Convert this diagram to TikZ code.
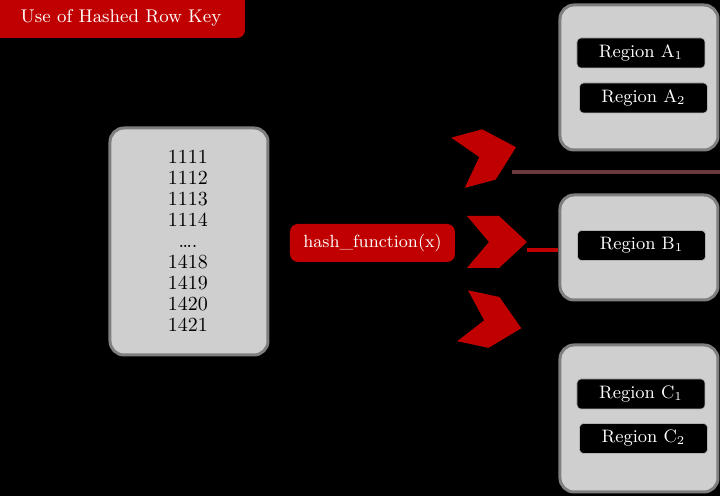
\documentclass[tikz,border=0pt]{standalone}
\usepackage{amsmath}
\usepackage{tikz}

\definecolor{hashred}{HTML}{C00000}
\definecolor{boxgray}{HTML}{D0CFD0}
\definecolor{edgegray}{HTML}{7F7F7F}
\definecolor{linebrown}{HTML}{6B3A3F}

\tikzset{
  server/.style={draw=edgegray, line width=1.5pt, fill=boxgray, rounded corners=7pt},
  region/.style={draw=edgegray!60, line width=0.3pt, fill=black, text=white, rounded corners=2pt,
    minimum width=64pt, minimum height=15pt, inner sep=0pt, font=\fontsize{9}{10}\selectfont},
  redbox/.style={fill=hashred, text=white, rounded corners=4pt, inner sep=0pt},
  chevron/.pic={\fill[hashred] (-30,-26) -- (2,-26) -- (30,0) -- (2,26) -- (-30,26) -- (-8,0) -- cycle;}
}

\begin{document}
\begin{tikzpicture}[x=0.5pt,y=-0.5pt]
\useasboundingbox[fill=black] (0,0) rectangle (720,496);

% title
\node[redbox, minimum width=127.5pt, minimum height=24pt] (title) at (117.5,14) {};
\node[text=white, font=\fontsize{9.2}{11}\selectfont] (titletext) at (121,18) {Use of Hashed Row Key};

% row keys
\node[server, minimum width=79pt, minimum height=113.5pt] (keys) at (189,241.5) {};
\node[align=center, font=\fontsize{10}{10.5}\selectfont] (keylist) at (188,241) {1111\\1112\\1113\\1114\\\ldots.\\1418\\1419\\1420\\1421};

% hash function
\node[redbox, minimum width=82.5pt, minimum height=19pt, font=\fontsize{8.8}{10}\selectfont] (hash) at (372.5,243) {hash\_function(x)};

% arrows
\pic[rotate=15] at (487,155) {chevron};
\pic at (497,242) {chevron};
\pic[rotate=-12] at (492,322) {chevron};
\coordinate (tipA) at (512,172);
\coordinate (edgeA) at (722,172);
\coordinate (tipB) at (527,250);

% region servers
\node[server, minimum width=79pt, minimum height=72.5pt] (srvA) at (639,77.5) {};
\node[server, minimum width=79pt, minimum height=52.5pt] (srvB) at (639,247.5) {};
\node[server, minimum width=79pt, minimum height=73.5pt] (srvC) at (639,418.5) {};

\node[region] (regA1) at (641,53) {Region A$_1$};
\node[region] (regA2) at (643.5,98) {Region A$_2$};
\node[region] (regB1) at (641.5,245.5) {Region B$_1$};
\node[region] (regC1) at (641,394) {Region C$_1$};
\node[region] (regC2) at (643.5,438.5) {Region C$_2$};

% connectors
\draw[linebrown, line width=2pt] (tipA) -- (edgeA);
\draw[hashred, line width=2pt] (tipB) -- (tipB -| srvB.west);
\end{tikzpicture}
\end{document}
